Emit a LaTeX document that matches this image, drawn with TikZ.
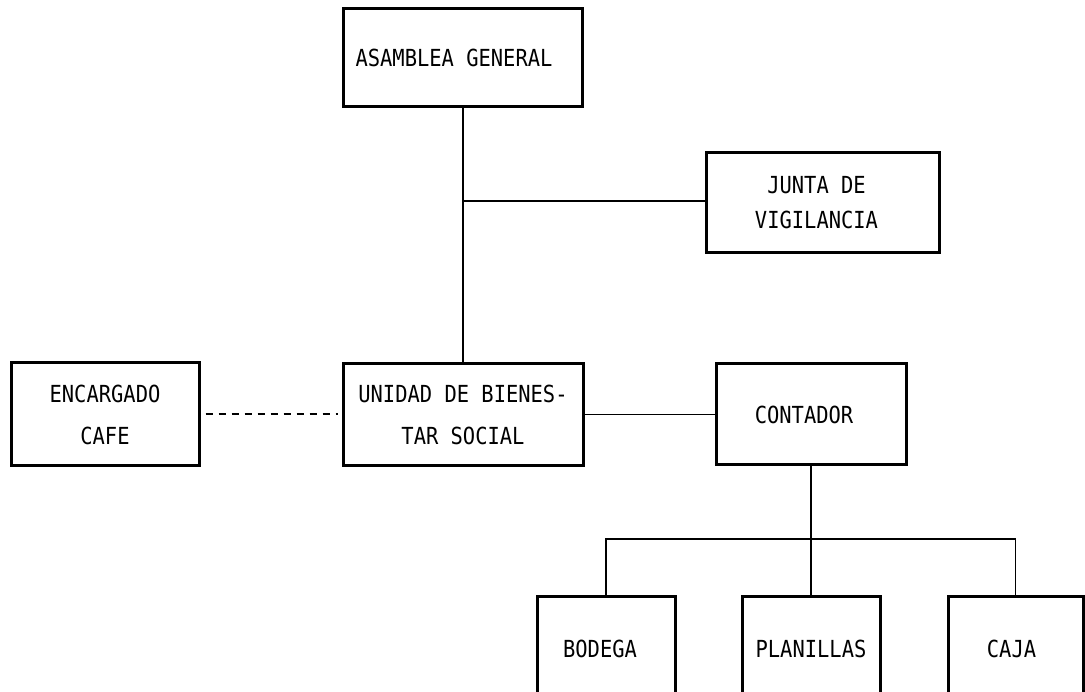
\documentclass[tikz,border=0pt]{standalone}
\usepackage{fontspec}
\newfontfamily\dmono[FakeStretch=0.87]{DejaVu Sans Mono}
\begin{document}
\begin{tikzpicture}[x=1pt,y=-1pt,
  box/.style={draw,line width=3pt,fill=white,inner sep=0pt,align=center,
    font=\dmono\fontsize{23.5}{42}\selectfont},
  conn/.style={line width=1.2pt},
  dconn/.style={line width=2pt,dash pattern=on 7pt off 6pt,shorten <=5pt,shorten >=4pt}]
\useasboundingbox (0,0) rectangle (1085,692);
\clip (0,0) rectangle (1085,692);
\fill[white] (0,0) rectangle (1085,692);

\node[box,minimum width=239pt,minimum height=98pt] (asam) at (463,58) {\hspace*{-18pt}ASAMBLEA GENERAL};
\node[box,minimum width=233pt,minimum height=100pt,font=\dmono\fontsize{23.5}{35}\selectfont] (junta) at (822.5,203) {\hspace*{-12pt}JUNTA DE\\\hspace*{-12pt}VIGILANCIA};
\node[box,minimum width=188pt,minimum height=103pt] (enc) at (105,414.5) {ENCARGADO\\CAFE};
\node[box,minimum width=240pt,minimum height=102pt] (unid) at (463,414.5) {UNIDAD DE BIENES-\\TAR SOCIAL};
\node[box,minimum width=190pt,minimum height=101pt] (cont) at (811,414.5) {\hspace*{-14pt}CONTADOR};
\node[box,anchor=north,minimum width=138pt,minimum height=110pt] (bod) at (606,595) {\raisebox{5pt}{\hspace*{-12pt}BODEGA}};
\node[box,anchor=north,minimum width=138pt,minimum height=110pt] (plan) at (811,595) {\raisebox{5pt}{PLANILLAS}};
\node[box,anchor=north,minimum width=135pt,minimum height=110pt] (caja) at (1015.5,595) {\raisebox{5pt}{\hspace*{-8pt}CAJA}};

\coordinate (bus) at (811,539);

\draw[conn] (asam.south) -- (unid.north);
\draw[conn] (asam.south |- 0,201) -- (junta.west |- 0,201);
\draw[dconn] (enc.east) -- (unid.west);
\draw[conn] (unid.east) -- (cont.west);
\draw[conn] (cont.south) -- (plan.north);
\draw[conn] (bod.north) -- (bod.north |- bus) -- (caja.north |- bus) -- (caja.north);
\end{tikzpicture}
\end{document}
